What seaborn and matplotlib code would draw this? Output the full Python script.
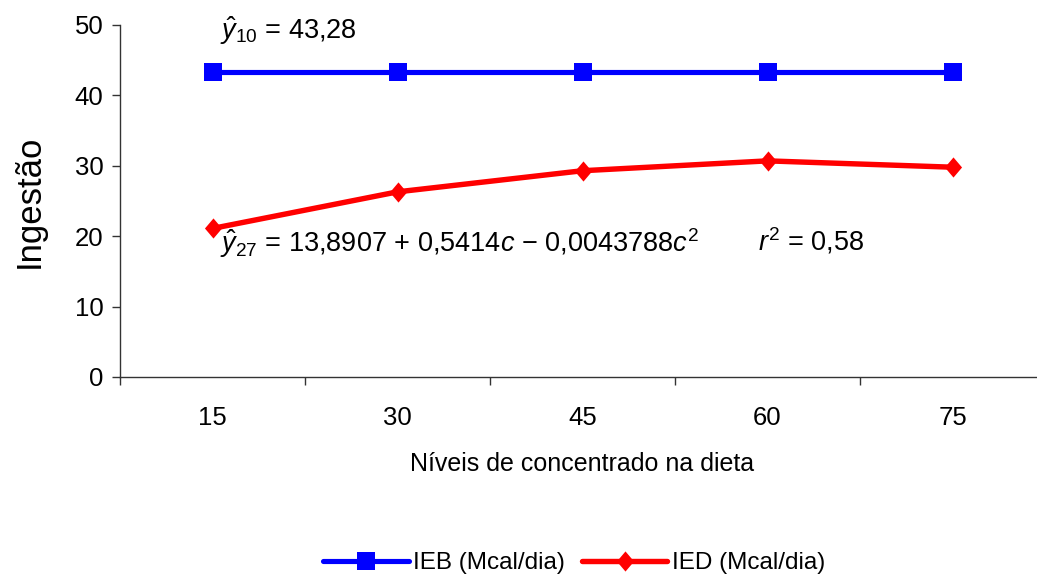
import matplotlib
matplotlib.use("Agg")
import matplotlib.pyplot as plt
from matplotlib.path import Path
import seaborn as sns
import numpy as np
import pandas as pd

niveis = ["15", "30", "45", "60", "75"]
ieb = [43.28, 43.28, 43.28, 43.28, 43.28]
ied = [21.1, 26.3, 29.3, 30.7, 29.8]
yticks = [0, 10, 20, 30, 40, 50]

sns.set_theme(style="white")
plt.rcParams['font.family'] = ['Liberation Sans', 'DejaVu Sans']
plt.rcParams['mathtext.fontset'] = 'custom'
plt.rcParams['mathtext.rm'] = 'Liberation Sans'
plt.rcParams['mathtext.it'] = 'Liberation Sans:italic'
plt.rcParams['text.color'] = 'black'
plt.rcParams['axes.labelcolor'] = 'black'
plt.rcParams['xtick.color'] = 'black'
plt.rcParams['ytick.color'] = 'black'

pos = np.arange(len(niveis))
df = pd.DataFrame({"pos": np.concatenate([pos, pos]),
                   "val": ieb + ied,
                   "serie": ["IEB (Mcal/dia)"] * len(niveis) + ["IED (Mcal/dia)"] * len(niveis)})

diamond = Path([(0, 1), (0.85, 0), (0, -1), (-0.85, 0), (0, 1)],
               [Path.MOVETO, Path.LINETO, Path.LINETO, Path.LINETO, Path.CLOSEPOLY])

fig = plt.figure(figsize=(10.37, 5.76), dpi=100)
ax = fig.add_axes([120 / 1037, 1 - 377 / 576, 925 / 1037, 352 / 576])

sns.lineplot(data=df[df.serie == "IEB (Mcal/dia)"], x="pos", y="val", color="#0000FF",
             marker="s", markersize=13, linewidth=3.7, markeredgewidth=0,
             label="IEB (Mcal/dia)", ax=ax)
sns.lineplot(data=df[df.serie == "IED (Mcal/dia)"], x="pos", y="val", color="#FF0000",
             marker=diamond, markersize=14.5, linewidth=3.9, markeredgewidth=0,
             label="IED (Mcal/dia)", ax=ax)

ax.set_xlim(-0.5, len(niveis) - 0.5)
ax.set_ylim(0, 50)
ax.set_yticks(yticks)
ax.set_xticks(pos)
ax.set_xticklabels(niveis)
ax.set_xticks(np.arange(-0.5, len(niveis), 1.0), minor=True)
ax.tick_params(axis="x", which="major", length=0, pad=21, labelsize=18.5)
ax.tick_params(axis="x", which="minor", length=6, width=1, color="#333333", direction="out", bottom=True)
ax.tick_params(axis="y", length=6, width=1, color="#333333", direction="out", left=True, pad=6, labelsize=18.5)

for s in ["top", "right"]:
    ax.spines[s].set_visible(False)
for s in ["left", "bottom"]:
    ax.spines[s].set_color("#333333")
    ax.spines[s].set_linewidth(1)

ax.set_xlabel("Níveis de concentrado na dieta", fontsize=18, labelpad=16)
ax.set_ylabel("Ingestão", fontsize=25)
ax.yaxis.set_label_coords(-0.08, 0.5)

ax.text(0.04, 49.2, r"$\hat{y}_{10}$ = 43,28", fontsize=19.5, ha="left", va="center")
ax.text(0.04, 19.0, r"$\hat{y}_{27}$ = 13,8907 + 0,5414$c$ − 0,0043788$c^2$", fontsize=19.5, ha="left", va="center")
ax.text(2.95, 19.3, r"$r^2$ = 0,58", fontsize=19.5, ha="left", va="center")

ax.get_legend().remove()
h, l = ax.get_legend_handles_labels()
fig.legend(h, l, loc="center", bbox_to_anchor=(0.554, 1 - 563 / 576), ncol=2, frameon=False,
           fontsize=17.5, handlelength=3.5, handletextpad=0.2, columnspacing=0.7)

fig.savefig("out.png", dpi=100)
